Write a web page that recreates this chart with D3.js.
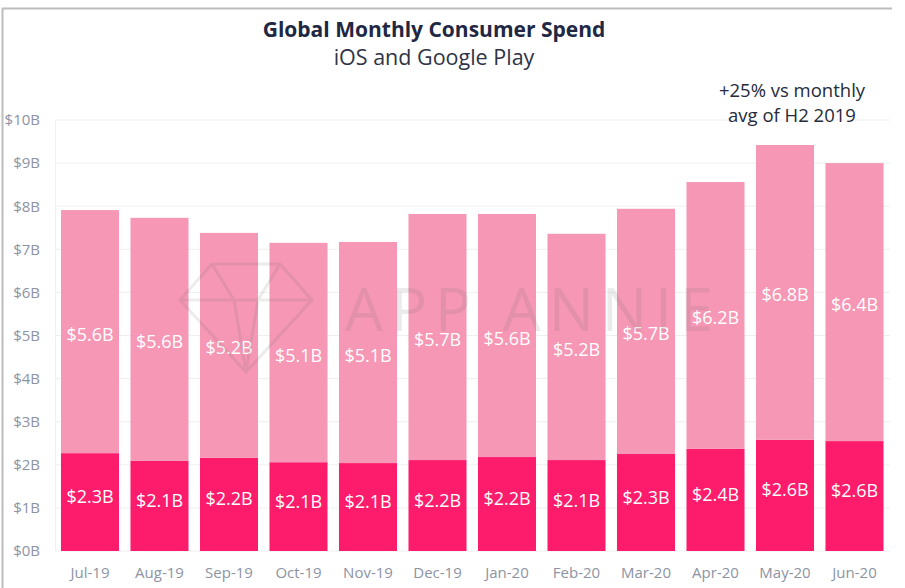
<!DOCTYPE html>
<html><head><meta charset="utf-8">
<script src="https://cdn.jsdelivr.net/npm/d3@7"></script>
<style>body{margin:0;background:#fff}svg{display:block}text{font-family:"Open Sans",sans-serif}</style>
</head><body><svg id="c" width="905" height="588"></svg>
<script>
const months = ["Jul-19","Aug-19","Sep-19","Oct-19","Nov-19","Dec-19","Jan-20","Feb-20","Mar-20","Apr-20","May-20","Jun-20"];
const googlePlay = [2.27,2.09,2.16,2.06,2.04,2.11,2.18,2.11,2.25,2.37,2.58,2.55];
const iOS = [5.64,5.64,5.22,5.09,5.13,5.71,5.64,5.25,5.69,6.19,6.84,6.45];
const googlePlayLabels = ["$2.3B","$2.1B","$2.2B","$2.1B","$2.1B","$2.2B","$2.2B","$2.1B","$2.3B","$2.4B","$2.6B","$2.6B"];
const iOSLabels = ["$5.6B","$5.6B","$5.2B","$5.1B","$5.1B","$5.7B","$5.6B","$5.2B","$5.7B","$6.2B","$6.8B","$6.4B"];
const yTicks = [0,1,2,3,4,5,6,7,8,9,10];

const svg = d3.select("#c");
const FONT = "'Open Sans',sans-serif";
// frame
svg.append("line").attr("x1",2).attr("x2",892).attr("y1",8.5).attr("y2",8.5).attr("stroke","#bdbdbd").attr("stroke-width",2);
svg.append("line").attr("x1",2.5).attr("x2",2.5).attr("y1",8).attr("y2",588).attr("stroke","#bdbdbd").attr("stroke-width",2);

const x = d3.scaleBand().domain(months).range([55,889.5]).paddingInner(0.165).paddingOuter(0.086);
const y = d3.scaleLinear().domain([0,10]).range([551,120]);

// grid
svg.append("g").selectAll("line").data(yTicks).join("line")
  .attr("x1",55).attr("x2",890).attr("y1",d=>y(d)).attr("y2",d=>y(d))
  .attr("stroke","#efefef").attr("stroke-width",1);
svg.append("line").attr("x1",55.5).attr("x2",55.5).attr("y1",y(10)).attr("y2",y(0)).attr("stroke","#efefef");

// y axis
const ya = svg.append("g").attr("transform","translate(47,0)")
  .call(d3.axisLeft(y).tickValues(yTicks).tickSize(0).tickPadding(7).tickFormat(d=>"$"+d+"B"));
ya.select(".domain").remove();
ya.selectAll("text").attr("fill","#8c93a3").style("font-size","15px").style("font-family",FONT);

// x axis
const xa = svg.append("g").attr("transform","translate(0,"+y(0)+")")
  .call(d3.axisBottom(x).tickSize(0).tickPadding(16));
xa.select(".domain").remove();
xa.selectAll("text").attr("fill","#8c93a3").style("font-size","15px").style("font-family",FONT);

const data = months.map((m,i)=>({m,gp:googlePlay[i],ios:iOS[i],gl:googlePlayLabels[i],il:iOSLabels[i]}));

const g = svg.append("g");
g.selectAll("rect.gp").data(data).join("rect").attr("class","gp")
  .attr("x",d=>x(d.m)).attr("width",x.bandwidth())
  .attr("y",d=>y(d.gp)).attr("height",d=>y(0)-y(d.gp)).attr("fill","#fd1b6b");
g.selectAll("rect.ios").data(data).join("rect").attr("class","ios")
  .attr("x",d=>x(d.m)).attr("width",x.bandwidth())
  .attr("y",d=>y(d.gp+d.ios)).attr("height",d=>y(d.gp)-y(d.gp+d.ios)).attr("fill","#f597b5");

// watermark
const wm = svg.append("g").attr("opacity",0.12);
wm.append("path").attr("d","M180,300 L212,264 L280,264 L312,300 L246,372 Z M180,300 L312,300 M212,264 L234,300 L246,372 M280,264 L258,300 L246,372")
  .attr("fill","none").attr("stroke","#666").attr("stroke-width",3);
wm.append("text").attr("x",345).attr("y",331).attr("fill","#666").style("font-size","60px").style("letter-spacing","8px").text("APP ANNIE");

g.selectAll("text.gl").data(data).join("text").attr("class","gl")
  .attr("x",d=>x(d.m)+x.bandwidth()/2).attr("y",d=>(y(0)+y(d.gp))/2-6)
  .attr("text-anchor","middle").attr("dominant-baseline","central")
  .attr("fill","#fff").style("font-size","18px").text(d=>d.gl);
g.selectAll("text.il").data(data).join("text").attr("class","il")
  .attr("x",d=>x(d.m)+x.bandwidth()/2).attr("y",d=>(y(d.gp)+y(d.gp+d.ios))/2+2)
  .attr("text-anchor","middle").attr("dominant-baseline","central")
  .attr("fill","#fff").style("font-size","18px").text(d=>d.il);

// titles
svg.append("text").attr("x",434).attr("y",37).attr("text-anchor","middle").attr("fill","#1e2743")
  .style("font-size","21px").style("font-weight","bold").text("Global Monthly Consumer Spend");
svg.append("text").attr("x",434).attr("y",65).attr("text-anchor","middle").attr("fill","#2e3446")
  .style("font-size","21.5px").text("iOS and Google Play");
// annotation
const ann = svg.append("text").attr("text-anchor","middle").attr("fill","#252b3b").style("font-size","18.5px");
ann.append("tspan").attr("x",792).attr("y",97).text("+25% vs monthly");
ann.append("tspan").attr("x",792).attr("y",122).text("avg of H2 2019");
</script></body></html>
